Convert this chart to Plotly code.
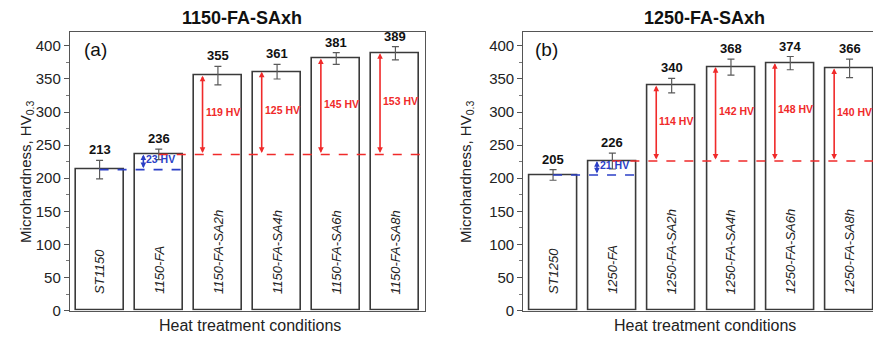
import plotly.graph_objects as go

# Microhardness (HV0.3) after each heat-treatment step, two solution temperatures
cats_a = ["ST1150", "1150-FA", "1150-FA-SA2h", "1150-FA-SA4h", "1150-FA-SA6h", "1150-FA-SA8h"]
vals_a = [213, 236, 355, 361, 381, 389]
errs_a = [14, 8, 14, 11, 9, 10]

cats_b = ["ST1250", "1250-FA", "1250-FA-SA2h", "1250-FA-SA4h", "1250-FA-SA6h", "1250-FA-SA8h"]
vals_b = [205, 226, 340, 368, 374, 366]
errs_b = [8, 12, 11, 12, 10, 14]

titles = ["1150-FA-SAxh", "1250-FA-SAxh"]
panel_tags = ["(a)", "(b)"]
y_ticks = [0, 50, 100, 150, 200, 250, 300, 350, 400]

W, H = 873, 342
FONT = "Liberation Sans, Arial, sans-serif"
RED = "#f02a2a"
BLUE = "#2b3fc6"
EDGE = "#3a3a3a"
BAR_W = 0.81
ARROW_DX = -0.26      # arrow position relative to bar centre
Y_MAX = 420.7


def px_x(p):
    return p / W


def px_y(p):
    return (H - p) / H


fig = go.Figure()

panels = [
    dict(cats=cats_a, vals=vals_a, errs=errs_a, xa="x", ya="y",
         dom=[px_x(70), px_x(425)], xr=[-0.5, 5.5], mirror_y=True,
         title_x=242, tag_x=95, xt_x=250, yt_x=27),
    dict(cats=cats_b, vals=vals_b, errs=errs_b, xa="x2", ya="y2",
         dom=[px_x(523.4), 1.0], xr=[-0.5, 5.395], mirror_y=False,
         title_x=704, tag_x=546, xt_x=705, yt_x=467),
]

annotations = []
shapes = []

for i, p in enumerate(panels):
    n = len(p["vals"])
    xs = list(range(n))
    fig.add_trace(go.Bar(
        x=xs, y=p["vals"], width=BAR_W, xaxis=p["xa"], yaxis=p["ya"],
        marker=dict(color="white", line=dict(color=EDGE, width=1.6)),
        error_y=dict(type="data", array=p["errs"], color="#5a5a5a",
                     thickness=1.2, width=3.5),
        showlegend=False, hoverinfo="skip",
    ))

    # value labels above the error bars
    for x, v, e in zip(xs, p["vals"], p["errs"]):
        annotations.append(dict(
            x=x, y=v + e, xref=p["xa"], yref=p["ya"], text=f"<b>{v}</b>",
            showarrow=False, xanchor="center", yanchor="bottom", yshift=1,
            font=dict(family=FONT, size=13, color="#111"),
        ))

    # rotated category names inside the bars
    for x, c in zip(xs, p["cats"]):
        annotations.append(dict(
            x=x, y=22, xref=p["xa"], yref=p["ya"], text=f"<i>{c}</i>",
            showarrow=False, textangle=-90, xanchor="center", yanchor="bottom",
            font=dict(family=FONT, size=13, color="#222"),
        ))

    base0 = p["vals"][0]
    base1 = p["vals"][1]

    # dashed reference levels
    shapes.append(dict(type="line", xref=p["xa"], yref=p["ya"],
                       x0=0, x1=1 + BAR_W / 2, y0=base0, y1=base0,
                       line=dict(color=BLUE, width=1.6, dash="dash")))
    shapes.append(dict(type="line", xref=p["xa"], yref=p["ya"],
                       x0=1, x1=p["xr"][1], y0=base1, y1=base1,
                       line=dict(color=RED, width=1.6, dash="dash")))

    # hardness increments
    steps = [(1, base0, BLUE)] + [(k, base1, RED) for k in range(2, n)]
    for k, base, col in steps:
        top = p["vals"][k]
        ax_x = k + ARROW_DX
        annotations.append(dict(
            x=ax_x, y=top, ax=ax_x, ay=base, xref=p["xa"], yref=p["ya"],
            axref=p["xa"], ayref=p["ya"], text="", showarrow=True,
            arrowhead=2, arrowside="end+start", arrowsize=0.7,
            arrowwidth=1.6, arrowcolor=col, standoff=0, startstandoff=0,
        ))
        annotations.append(dict(
            x=ax_x, y=(top + base) / 2 + 4, xref=p["xa"], yref=p["ya"],
            text=f"<b>{top - base} HV</b>", showarrow=False,
            xanchor="left", yanchor="middle", xshift=1,
            font=dict(family=FONT, size=10.5, color=col),
        ))

    # panel title, tag and axis titles
    annotations.append(dict(
        x=px_x(p["title_x"]), y=px_y(18), xref="paper", yref="paper",
        text=f"<b>{titles[i]}</b>", showarrow=False,
        xanchor="center", yanchor="middle",
        font=dict(family=FONT, size=18, color="#111"),
    ))
    annotations.append(dict(
        x=px_x(p["tag_x"]), y=px_y(51), xref="paper", yref="paper",
        text=panel_tags[i], showarrow=False,
        xanchor="center", yanchor="middle",
        font=dict(family=FONT, size=19, color="#111"),
    ))
    annotations.append(dict(
        x=px_x(p["xt_x"]), y=px_y(333), xref="paper", yref="paper",
        text="Heat treatment conditions", showarrow=False,
        xanchor="center", yanchor="middle",
        font=dict(family=FONT, size=16, color="#222"),
    ))
    annotations.append(dict(
        x=px_x(p["yt_x"]), y=px_y(176), xref="paper", yref="paper",
        text="Microhardness, HV<sub>0.3</sub>", showarrow=False, textangle=-90,
        xanchor="center", yanchor="middle",
        font=dict(family=FONT, size=15, color="#222"),
    ))

    xkey = "xaxis" if i == 0 else "xaxis2"
    ykey = "yaxis" if i == 0 else "yaxis2"
    fig.update_layout(**{
        xkey: dict(domain=p["dom"], range=p["xr"], anchor=p["ya"],
                   showticklabels=False, ticks="", showgrid=False, zeroline=False,
                   showline=True, linecolor="#555", linewidth=1.4, mirror=True,
                   fixedrange=True),
        ykey: dict(domain=[px_y(318), px_y(33)], range=[0, Y_MAX], anchor=p["xa"],
                   tickvals=y_ticks, ticks="outside", ticklen=5, tickwidth=1.2,
                   tickcolor="#555", showgrid=False, zeroline=False,
                   showline=True, linecolor="#555", linewidth=1.4,
                   mirror=p["mirror_y"],
                   minor=dict(dtick=25, tick0=0, ticks="outside", ticklen=3,
                              tickcolor="#777", showgrid=False),
                   tickfont=dict(family=FONT, size=15, color="#222"),
                   fixedrange=True),
    })

fig.update_layout(
    width=W, height=H, margin=dict(l=0, r=0, t=0, b=0),
    paper_bgcolor="white", plot_bgcolor="white",
    annotations=annotations, shapes=shapes, bargap=0,
)

fig.write_html("out.html", config={"displayModeBar": False})
